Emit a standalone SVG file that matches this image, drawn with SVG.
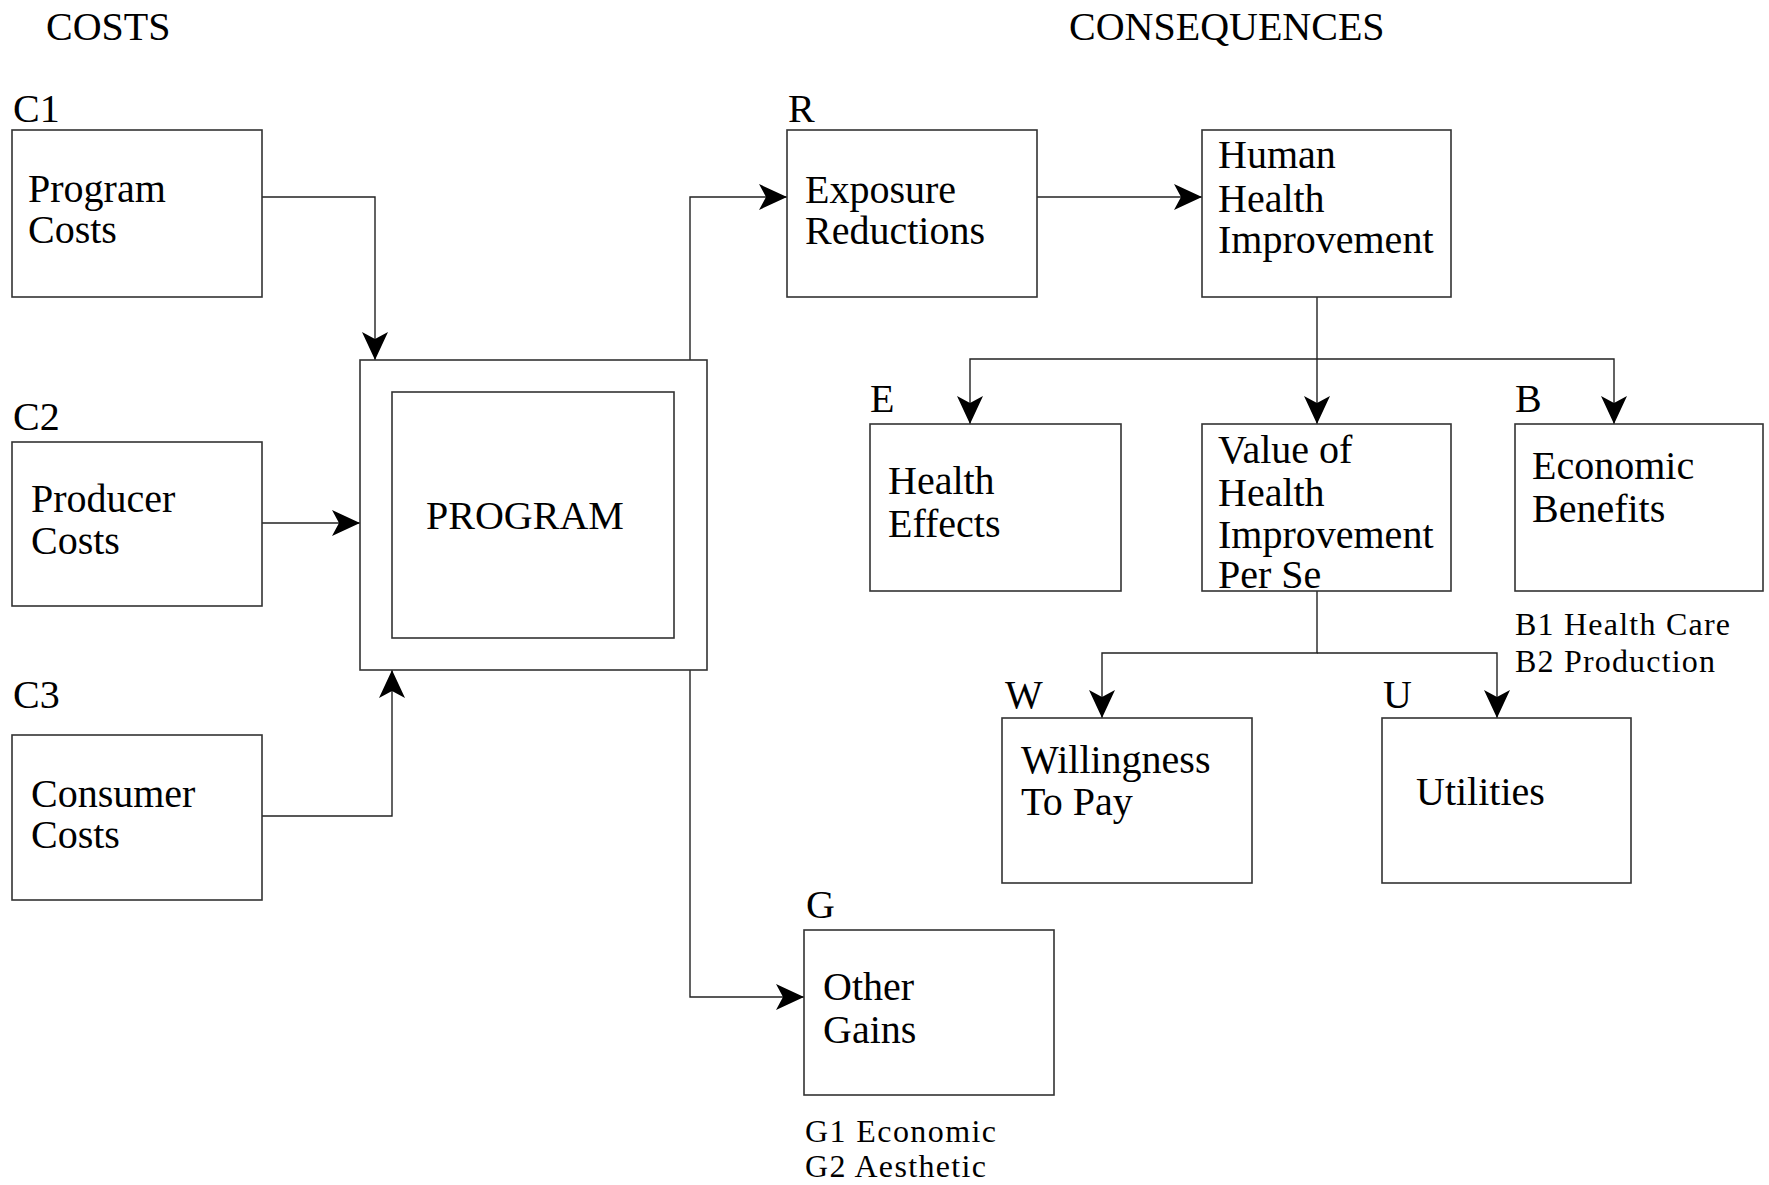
<svg xmlns="http://www.w3.org/2000/svg" width="1769" height="1185" viewBox="0 0 1769 1185">
<style>
  text { font-family: "Liberation Serif", "Times New Roman", serif; fill: #000; }
  .t { font-size: 40px; }
  .s { font-size: 32px; }
  .box { fill: #fff; stroke: #333; stroke-width: 1.6; }
  .line { fill: none; stroke: #222; stroke-width: 1.4; }
</style>
<defs>
  <marker id="arr" viewBox="0 0 28 26" markerWidth="28" markerHeight="26" refX="28" refY="13" orient="auto" markerUnits="userSpaceOnUse">
    <path d="M0,0 L28,13 L0,26 L7,13 Z" fill="#000"/>
  </marker>
</defs>
<rect x="0" y="0" width="1769" height="1185" fill="#fff"/>

<text class="t" x="46" y="40">COSTS</text>
<text class="t" x="1069" y="40">CONSEQUENCES</text>

<g id="connectors">
  <path class="line" d="M262,197 H375 V360" marker-end="url(#arr)"/>
  <path class="line" d="M262,523 H360" marker-end="url(#arr)"/>
  <path class="line" d="M262,816 H392 V670" marker-end="url(#arr)"/>
  <path class="line" d="M690,360 V197 H787" marker-end="url(#arr)"/>
  <path class="line" d="M690,670 V997 H804" marker-end="url(#arr)"/>
  <path class="line" d="M1037,197 H1202" marker-end="url(#arr)"/>
  <path class="line" d="M1317,297 V424" marker-end="url(#arr)"/>
  <path class="line" d="M1317,359 H970 V424" marker-end="url(#arr)"/>
  <path class="line" d="M1317,359 H1614 V424" marker-end="url(#arr)"/>
  <path class="line" d="M1317,591 V653 H1102 V718" marker-end="url(#arr)"/>
  <path class="line" d="M1317,653 H1497 V718" marker-end="url(#arr)"/>
</g>

<g id="c1">
  <text class="t" x="13" y="122">C1</text>
  <rect class="box" x="12" y="130" width="250" height="167"/>
  <text class="t" x="28" y="202">Program</text>
  <text class="t" x="28" y="243">Costs</text>
</g>
<g id="c2">
  <text class="t" x="13" y="430">C2</text>
  <rect class="box" x="12" y="442" width="250" height="164"/>
  <text class="t" x="31" y="512">Producer</text>
  <text class="t" x="31" y="554">Costs</text>
</g>
<g id="c3">
  <text class="t" x="13" y="708">C3</text>
  <rect class="box" x="12" y="735" width="250" height="165"/>
  <text class="t" x="31" y="807">Consumer</text>
  <text class="t" x="31" y="848">Costs</text>
</g>
<g id="program">
  <rect class="box" x="360" y="360" width="347" height="310"/>
  <rect class="box" x="392" y="392" width="282" height="246"/>
  <text class="t" x="426" y="529">PROGRAM</text>
</g>
<g id="r">
  <text class="t" x="788" y="122">R</text>
  <rect class="box" x="787" y="130" width="250" height="167"/>
  <text class="t" x="805" y="203">Exposure</text>
  <text class="t" x="805" y="244">Reductions</text>
</g>
<g id="human">
  <rect class="box" x="1202" y="130" width="249" height="167"/>
  <text class="t" x="1218" y="168">Human</text>
  <text class="t" x="1218" y="212">Health</text>
  <text class="t" x="1218" y="253">Improvement</text>
</g>
<g id="e">
  <text class="t" x="870" y="412">E</text>
  <rect class="box" x="870" y="424" width="251" height="167"/>
  <text class="t" x="888" y="494">Health</text>
  <text class="t" x="888" y="537">Effects</text>
</g>
<g id="value">
  <rect class="box" x="1202" y="424" width="249" height="167"/>
  <text class="t" x="1218" y="463">Value of</text>
  <text class="t" x="1218" y="506">Health</text>
  <text class="t" x="1218" y="548">Improvement</text>
  <text class="t" x="1218" y="588">Per Se</text>
</g>
<g id="b">
  <text class="t" x="1515" y="412">B</text>
  <rect class="box" x="1515" y="424" width="248" height="167"/>
  <text class="t" x="1532" y="479">Economic</text>
  <text class="t" x="1532" y="522">Benefits</text>
  <text class="s" x="1515" y="635" textLength="215" lengthAdjust="spacing">B1 Health Care</text>
  <text class="s" x="1515" y="672" textLength="200" lengthAdjust="spacing">B2 Production</text>
</g>
<g id="w">
  <text class="t" x="1005" y="708">W</text>
  <rect class="box" x="1002" y="718" width="250" height="165"/>
  <text class="t" x="1021" y="773">Willingness</text>
  <text class="t" x="1021" y="815">To Pay</text>
</g>
<g id="u">
  <text class="t" x="1383" y="708">U</text>
  <rect class="box" x="1382" y="718" width="249" height="165"/>
  <text class="t" x="1416" y="805">Utilities</text>
</g>
<g id="g">
  <text class="t" x="806" y="918">G</text>
  <rect class="box" x="804" y="930" width="250" height="165"/>
  <text class="t" x="823" y="1000">Other</text>
  <text class="t" x="823" y="1043">Gains</text>
  <text class="s" x="805" y="1142" textLength="191" lengthAdjust="spacing">G1 Economic</text>
  <text class="s" x="805" y="1177" textLength="181" lengthAdjust="spacing">G2 Aesthetic</text>
</g>
</svg>
